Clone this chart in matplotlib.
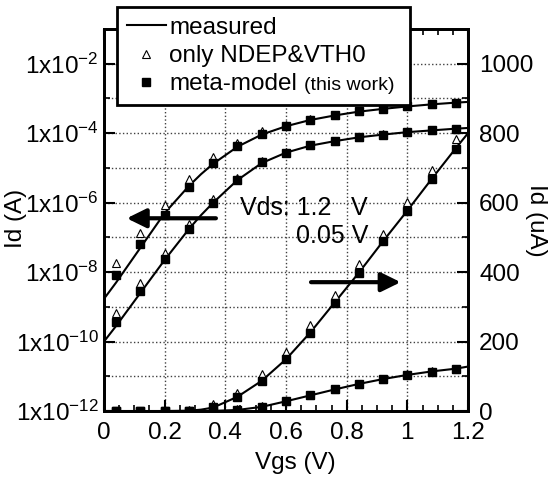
import numpy as np
import matplotlib
matplotlib.use("Agg")
import matplotlib.pyplot as plt
from matplotlib.ticker import FixedLocator, FuncFormatter

plt.rcParams["font.family"] = ["Liberation Sans", "DejaVu Sans"]
plt.rcParams["mathtext.fontset"] = "custom"
plt.rcParams["mathtext.rm"] = "Liberation Sans"
plt.rcParams["mathtext.default"] = "regular"

FS = 17.5

# -----------------------------
# Data
# -----------------------------
vgs_pts = [0.04, 0.12, 0.20, 0.28, 0.36, 0.44, 0.52, 0.60, 0.68, 0.76, 0.84, 0.92, 1.00, 1.08, 1.16]
vgs_meas = [0.0, 0.04, 0.12, 0.20, 0.28, 0.32, 0.36, 0.44, 0.52, 0.60, 0.68, 0.76, 0.84, 0.92, 1.00, 1.08, 1.16, 1.20]

# log10(Id [A]) -- Vds = 1.2 V and 0.05 V
meas_hi_log = [-8.77, -8.30, -7.30, -6.30, -5.52, -5.18, -4.88, -4.39, -4.04, -3.80, -3.62, -3.49, -3.38, -3.30, -3.23, -3.17, -3.12, -3.10]
meas_lo_log = [-10.0, -9.55, -8.60, -7.65, -6.76, -6.36, -6.00, -5.35, -4.86, -4.56, -4.36, -4.23, -4.12, -4.04, -3.97, -3.92, -3.87, -3.85]
tri_hi_log = [-7.73, -6.88, -6.06, -5.31, -4.69, -4.29, -3.95, -3.75, -3.59, -3.47, -3.36, -3.28, -3.22, -3.16, -3.12]
tri_lo_log = [-9.18, -8.30, -7.46, -6.62, -5.90, -5.28, -4.80, -4.54, -4.34, -4.22, -4.11, -4.03, -3.97, -3.92, -3.87]
sq_hi_log = [-8.08, -7.19, -6.35, -5.54, -4.86, -4.38, -4.03, -3.79, -3.61, -3.48, -3.37, -3.29, -3.23, -3.16, -3.12]
sq_lo_log = [-9.44, -8.53, -7.63, -6.75, -6.00, -5.34, -4.84, -4.56, -4.35, -4.23, -4.12, -4.04, -3.97, -3.92, -3.87]

# Id [uA], linear scale
meas_hi_lin = [0, 0, 0, 0, 1, 4, 10, 41, 87, 149, 226, 312, 398, 489, 577, 668, 757, 800]
meas_lo_lin = [0, 0, 0, 0, 0, 0, 0.5, 3, 12, 28, 45, 62, 78, 92, 104, 114, 122, 128]
tri_hi_lin = [0, 0, 0, 3, 20, 53, 106, 170, 249, 334, 424, 511, 603, 693, 782]
tri_lo_lin = [0, 0, 0, 0, 0, 5, 14, 29, 46, 63, 79, 92, 106, 114, 122]
sq_hi_lin = [0, 0, 0, 1, 11, 41, 87, 149, 226, 312, 398, 489, 577, 669, 755]
sq_lo_lin = [0, 0, 0, 0, 0, 4, 13, 28, 45, 62, 78, 91, 105, 113, 121]

log_major = [1e-12, 1e-10, 1e-8, 1e-6, 1e-4, 1e-2]
log_minor = [1e-11, 1e-9, 1e-7, 1e-5, 1e-3]
lin_major = [0, 200, 400, 600, 800, 1000]
lin_minor = [100, 300, 500, 700, 900]
x_major = [0, 0.2, 0.4, 0.6, 0.8, 1.0, 1.2]


def to_amp(vals):
    return np.power(10.0, np.array(vals))


fig = plt.figure(figsize=(5.51, 4.80), dpi=100)
ax = fig.add_axes([0.1887, 0.1437, 0.6607, 0.7959])
ax2 = ax.twinx()

line_kw = dict(color="k", lw=1.5, zorder=3)
tri_kw = dict(ls="none", marker="^", ms=6, mfc="white", mec="k", mew=0.8, zorder=4)
sq_kw = dict(ls="none", marker="s", ms=6, mfc="k", mec="k", zorder=5)

# log axis curves
h_meas, = ax.plot(vgs_meas, to_amp(meas_hi_log), **line_kw)
ax.plot(vgs_meas, to_amp(meas_lo_log), **line_kw)
h_tri, = ax.plot(vgs_pts, to_amp(tri_hi_log), **tri_kw)
ax.plot(vgs_pts, to_amp(tri_lo_log), **tri_kw)
h_sq, = ax.plot(vgs_pts, to_amp(sq_hi_log), **sq_kw)
ax.plot(vgs_pts, to_amp(sq_lo_log), **sq_kw)

# linear axis curves
ax2.plot(vgs_meas, meas_hi_lin, **line_kw)
ax2.plot(vgs_meas, meas_lo_lin, **line_kw)
ax2.plot(vgs_pts, tri_hi_lin, **tri_kw)
ax2.plot(vgs_pts, tri_lo_lin, **tri_kw)
ax2.plot(vgs_pts, sq_hi_lin, **sq_kw)
ax2.plot(vgs_pts, sq_lo_lin, **sq_kw)

ax.set_xlim(0, 1.2)
ax.set_yscale("log")
ax.set_ylim(1e-12, 1e-1)
ax2.set_ylim(0, 1100)

ax.xaxis.set_major_locator(FixedLocator(x_major))
ax.xaxis.set_minor_locator(FixedLocator(list(np.arange(0.05, 1.2, 0.05))))
ax.xaxis.set_major_formatter(FuncFormatter(lambda v, p: "%g" % round(v, 2)))
ax.yaxis.set_major_locator(FixedLocator(log_major))
ax.yaxis.set_minor_locator(FixedLocator(log_minor))
ax.yaxis.set_major_formatter(FuncFormatter(lambda v, p: "1x10$^{%d}$" % round(np.log10(v))))
ax.yaxis.set_minor_formatter(FuncFormatter(lambda v, p: ""))
ax2.yaxis.set_major_locator(FixedLocator(lin_major))
ax2.yaxis.set_minor_locator(FixedLocator(lin_minor))

ax.tick_params(axis="both", which="major", direction="in", length=8, width=1.5,
               labelsize=FS, top=True)
ax.tick_params(axis="both", which="minor", direction="in", length=4, width=1.2, top=True)
ax.tick_params(axis="y", which="both", right=False, pad=4)
ax.tick_params(axis="x", which="major", pad=8)
ax2.tick_params(axis="y", which="major", direction="in", length=8, width=1.5,
                labelsize=FS, pad=8)
ax2.tick_params(axis="y", which="minor", direction="in", length=4, width=1.2)

for a in (ax, ax2):
    for s in a.spines.values():
        s.set_linewidth(2.0)

# grid: dotted
ax.grid(True, axis="x", which="major", ls=":", color="0.25", lw=1.0)
ax.grid(True, axis="y", which="both", ls=":", color="0.25", lw=1.0)
ax.set_axisbelow(True)

# annotations
arr_kw = dict(arrowstyle="-|>,head_length=0.65,head_width=0.32", lw=3, color="k",
              shrinkA=0, shrinkB=0, mutation_scale=18)
ax.annotate("", xy=(0.075, 10 ** -6.45), xytext=(0.369, 10 ** -6.45), arrowprops=arr_kw)
ax.annotate("", xy=(0.978, 10 ** -8.29), xytext=(0.6825, 10 ** -8.29), arrowprops=arr_kw)
ax.text(0.448, 10 ** -6.35, "Vds: 1.2", fontsize=FS + 0.5, ha="left", va="baseline")
ax.text(0.870, 10 ** -6.35, "V", fontsize=FS + 0.5, ha="right", va="baseline")
ax.text(0.870, 10 ** -7.17, "0.05 V", fontsize=FS + 0.5, ha="right", va="baseline")

# axis labels
fig.text(16 / 551, 1 - 218 / 480, "Id (A)", rotation=90, ha="center", va="center", fontsize=FS)
fig.text(536 / 551, 1 - 220 / 480, "Id (uA)", rotation=270, ha="center", va="center", fontsize=FS)
fig.text(295 / 551, 1 - 463 / 480, "Vgs (V)", ha="center", va="center", fontsize=FS)

# legend (trailing spaces on row 2 widen the box to fit "(this work)")
leg = fig.legend([h_meas, h_tri, h_sq],
                 ["measured", "only NDEP&VTH0" + " " * 5, "meta-model"],
                 loc="upper left", bbox_to_anchor=(116.7 / 551, 1 - 6.7 / 480),
                 bbox_transform=fig.transFigure, fontsize=FS, frameon=True,
                 fancybox=False, edgecolor="k", framealpha=1, borderaxespad=0,
                 borderpad=0.42, handlelength=1.6, handletextpad=0.15,
                 labelspacing=0.25)
leg.get_frame().set_linewidth(2.0)
leg.set_zorder(20)

# place "(this work)" on the baseline of the last legend label
fig.canvas.draw()
mm = leg.get_texts()[2]
bx, by = mm.get_transform().transform(mm.get_position())
fig.text(304 / 551, by / fig.bbox.height, "(this work)", fontsize=14, ha="left",
         va="baseline", zorder=30)

fig.savefig("out.png", dpi=100)
